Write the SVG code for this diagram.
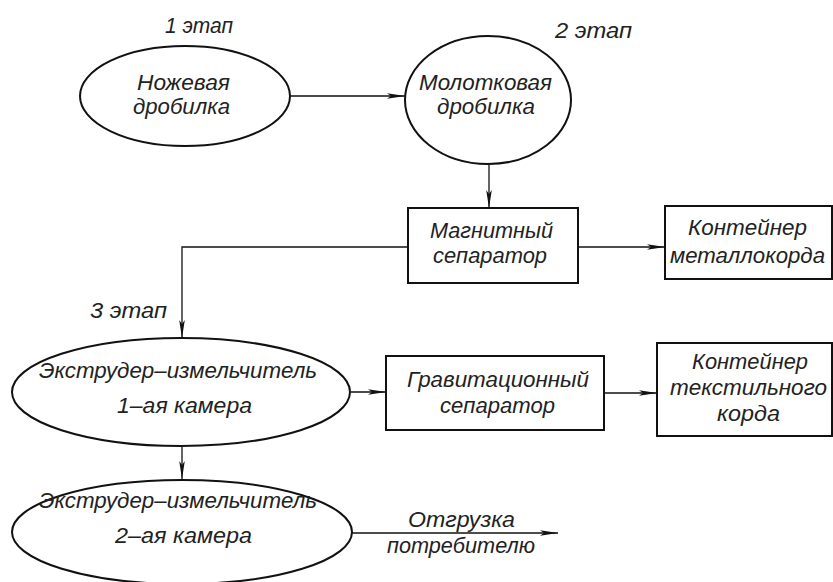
<svg xmlns="http://www.w3.org/2000/svg" width="833" height="582" viewBox="0 0 833 582">
<defs>
<style>
.shape{fill:none;stroke:#111;stroke-width:2}
.conn{fill:none;stroke:#111;stroke-width:1.3}
text{font-family:"Liberation Sans","DejaVu Sans",sans-serif;font-style:italic;font-size:22px;fill:#222;text-anchor:start}
</style>
<marker id="arr" markerUnits="userSpaceOnUse" markerWidth="20" markerHeight="8" refX="18" refY="4" orient="auto">
<path d="M0,1.2 L18,4 L0,6.8 L4,4 z" fill="#111"/>
</marker>
</defs>
<rect width="833" height="582" fill="#fff"/>
<g id="connectors">
<line class="conn" x1="290" y1="96" x2="405" y2="96" marker-end="url(#arr)"/>
<line class="conn" x1="489" y1="165" x2="489" y2="208" marker-end="url(#arr)"/>
<line class="conn" x1="578" y1="247" x2="665" y2="247" marker-end="url(#arr)"/>
<polyline class="conn" points="408,247 182,247 182,338" marker-end="url(#arr)"/>
<line class="conn" x1="351" y1="392" x2="386" y2="392" marker-end="url(#arr)"/>
<line class="conn" x1="604" y1="393" x2="657" y2="393" marker-end="url(#arr)"/>
<line class="conn" x1="182" y1="447" x2="182" y2="479" marker-end="url(#arr)"/>
<line class="conn" x1="352" y1="533" x2="558" y2="533" marker-end="url(#arr)"/>
</g>
<g id="label-stage1"><text x="165" y="33" textLength="68" lengthAdjust="spacingAndGlyphs">1 этап</text></g>
<g id="label-stage2"><text x="555" y="38" textLength="77" lengthAdjust="spacingAndGlyphs">2 этап</text></g>
<g id="label-stage3"><text x="90" y="318" textLength="77" lengthAdjust="spacingAndGlyphs">3 этап</text></g>
<g id="knife-crusher">
<ellipse class="shape" cx="185" cy="96" rx="105" ry="50"/>
<text x="137" y="90" textLength="93" lengthAdjust="spacingAndGlyphs">Ножевая</text>
<text x="133" y="114" textLength="97" lengthAdjust="spacingAndGlyphs">дробилка</text>
</g>
<g id="hammer-crusher">
<ellipse class="shape" cx="488" cy="100" rx="83" ry="64"/>
<text x="419" y="90" textLength="133" lengthAdjust="spacingAndGlyphs">Молотковая</text>
<text x="437" y="114" textLength="98" lengthAdjust="spacingAndGlyphs">дробилка</text>
</g>
<g id="magnetic-separator">
<rect class="shape" x="408" y="208" width="170" height="75"/>
<text x="430" y="238" textLength="123" lengthAdjust="spacingAndGlyphs">Магнитный</text>
<text x="433" y="263" textLength="114" lengthAdjust="spacingAndGlyphs">сепаратор</text>
</g>
<g id="metal-cord-container">
<rect class="shape" x="665" y="206" width="167" height="73"/>
<text x="688" y="235" textLength="119" lengthAdjust="spacingAndGlyphs">Контейнер</text>
<text x="670" y="263" textLength="155" lengthAdjust="spacingAndGlyphs">металлокорда</text>
</g>
<g id="extruder-1">
<ellipse class="shape" cx="181" cy="392" rx="169" ry="54"/>
<text x="39" y="378" textLength="278" lengthAdjust="spacingAndGlyphs">Экструдер–измельчитель</text>
<text x="117" y="413" textLength="135" lengthAdjust="spacingAndGlyphs">1–ая камера</text>
</g>
<g id="gravity-separator">
<rect class="shape" x="386" y="356" width="218" height="74"/>
<text x="407" y="387" textLength="182" lengthAdjust="spacingAndGlyphs">Гравитационный</text>
<text x="440" y="413" textLength="115" lengthAdjust="spacingAndGlyphs">сепаратор</text>
</g>
<g id="textile-cord-container">
<rect class="shape" x="657" y="343" width="175" height="93"/>
<text x="692" y="369" textLength="116" lengthAdjust="spacingAndGlyphs">Контейнер</text>
<text x="670" y="395" textLength="157" lengthAdjust="spacingAndGlyphs">текстильного</text>
<text x="717" y="421" textLength="63" lengthAdjust="spacingAndGlyphs">корда</text>
</g>
<g id="extruder-2">
<ellipse class="shape" cx="182" cy="532" rx="170" ry="52"/>
<text x="39" y="508" textLength="278" lengthAdjust="spacingAndGlyphs">Экструдер–измельчитель</text>
<text x="115" y="543" textLength="137" lengthAdjust="spacingAndGlyphs">2–ая камера</text>
</g>
<g id="label-shipping">
<text x="408" y="527" textLength="107" lengthAdjust="spacingAndGlyphs">Отгрузка</text>
<text x="387" y="553" textLength="148" lengthAdjust="spacingAndGlyphs">потребителю</text>
</g>
</svg>
